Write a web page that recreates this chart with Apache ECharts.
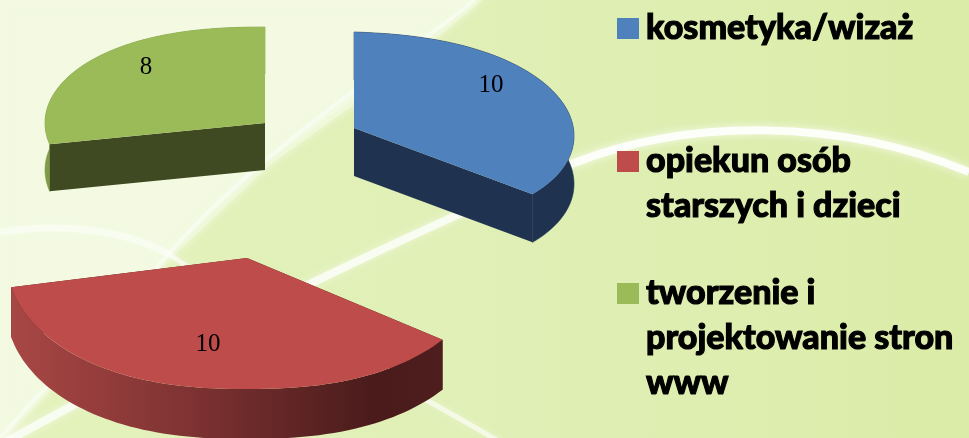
<!DOCTYPE html>
<html>
<head>
<meta charset="utf-8">
<style>html,body{margin:0;padding:0;background:#DDEEAE}#c{width:969px;height:438px}</style>
<script src="https://cdn.jsdelivr.net/npm/echarts@6/dist/echarts.min.js"></script>
</head>
<body>
<div id="c"></div>
<script>
const categories = ['kosmetyka/wizaż', 'opiekun osób\nstarszych i dzieci', 'tworzenie i\nprojektowanie stron\nwww'];
const values = [10, 10, 8];
const topColors = ['#4F81BD', '#BE4C4A', '#9BBB59'];

// Drawing layout of each exploded slice (not data)
const sliceLayout = [
  { x: 354, y: 128, rx: 220, ry: 96, skew: 8, depth: 48, label: [491, 85], side: '#1F3350', wall: '#1F3350', wallFirst: false },
  { x: 247, y: 258, rx: 241, ry: 131, skew: 0, depth: 50, label: [208, 344], side: '#4E1E1E',
    wall: ['#A84745', '#7E3232', '#4A1B1B', '#4E1E1E'], wallFirst: false },
  { x: 265, y: 123, rx: 220, ry: 96, skew: 0, depth: 47, label: [146, 67], side: '#404A22', wall: '#7F9A48', wallFirst: true }
];
const legendLayout = [
  { top: 6, blank: '' },
  { top: 94, blank: '\n' },
  { top: 181, blank: '\n\n' }
];

const total = values.reduce((a, b) => a + b, 0);

function renderSlice(index) {
  return function (params, api) {
    const s = sliceLayout[index];
    let before = 0;
    for (let i = 0; i < index; i++) before += values[i];
    const a0 = before / total * Math.PI * 2;
    const a1 = (before + api.value(0)) / total * Math.PI * 2;
    const pt = (a, r, dz) => {
      const su = Math.sin(a);
      const u = Math.sign(su) * Math.pow(Math.abs(su), 0.85) * r, v = -Math.cos(a) * r;
      return [s.x + s.rx * u, s.y + s.ry * v + s.skew * u + dz];
    };
    const arc = [];
    const n = 72;
    for (let k = 0; k <= n; k++) arc.push(a0 + (a1 - a0) * k / n);
    const top = [pt(0, 0, 0)].concat(arc.map(a => pt(a, 1, 0)));
    const face = a => [pt(0, 0, 0), pt(a, 1, 0), pt(a, 1, s.depth), pt(0, 0, s.depth)];
    const outer = arc.map(a => pt(a, 1, 0)).concat(arc.slice().reverse().map(a => pt(a, 1, s.depth)));
    let wallFill = s.wall;
    if (Array.isArray(s.wall)) {
      wallFill = new echarts.graphic.LinearGradient(0, 0, 1, 0, s.wall.map((c, i) => ({ offset: i === 3 ? 1 : i * 0.42, color: c })));
    }
    const wall = { type: 'polygon', shape: { points: outer }, style: { fill: wallFill, stroke: Array.isArray(s.wall) ? null : s.wall, lineWidth: 0.6 } };
    const faces = [
      { type: 'polygon', shape: { points: face(a0) }, style: { fill: s.side } },
      { type: 'polygon', shape: { points: face(a1) }, style: { fill: s.side } }
    ];
    const children = (s.wallFirst ? [wall].concat(faces) : faces.concat([wall])).concat([
      { type: 'polygon', shape: { points: top }, style: { fill: topColors[index] } },
      { type: 'text', style: { text: String(api.value(0)), x: s.label[0], y: s.label[1], align: 'center', verticalAlign: 'middle',
        fill: '#000', font: '25px "Liberation Serif"' } }
    ]);
    return { type: 'group', children };
  };
}

const chart = echarts.init(document.getElementById('c'), null, { renderer: 'canvas' });

const soft = (x1, y1, cpx1, cpy1, cpx2, cpy2, x2, y2, w, alpha) => ({
  type: 'bezierCurve', silent: true,
  shape: { x1, y1, cpx1, cpy1, cpx2, cpy2, x2, y2 },
  style: { stroke: 'rgba(255,255,255,' + alpha + ')', lineWidth: w, fill: null,
    shadowBlur: 8, shadowColor: 'rgba(255,255,255,' + alpha + ')' }
});

chart.setOption({
  animation: false,
  backgroundColor: new echarts.graphic.LinearGradient(0, 0, 1, 0, [
    { offset: 0, color: '#E4F2BC' }, { offset: 0.6, color: '#DFEFB4' }, { offset: 1, color: '#DBECA8' }
  ]),
  graphic: { elements: [
    { type: 'polygon', silent: true, z: 0,
      shape: { points: [[0,0],[475,0],[420,45],[352,100],[268,160],[172,250],[100,330],[38,396],[0,438]] },
      style: { fill: '#F3FAE1', stroke: 'rgba(243,250,225,0.6)', lineWidth: 10, shadowBlur: 12, shadowColor: '#F3FAE1' } },
    soft(969,172, 840,118, 690,118, 574,163, 8, 0.85),
    soft(574,163, 480,205, 300,280, 0,445, 8, 0.7),
    soft(0,232, 70,222, 130,232, 170,255, 7, 0.45),
    soft(170,255, 250,310, 380,370, 505,445, 5, 0.6),
    soft(475,0, 400,60, 260,150, 172,250, 4, 0.45),
    soft(172,250, 120,310, 60,370, 0,438, 4, 0.45)
  ] },
  legend: categories.map((name, i) => ({
    data: [name],
    left: 617, top: legendLayout[i].top, padding: 0,
    orient: 'vertical', icon: 'path://M0,0H22V21H0Z M24,0L24,0', itemWidth: 24, itemHeight: 21,
    selectedMode: false,
    formatter: n => legendLayout[i].blank + n,
    textStyle: { fontFamily: 'Lato', fontWeight: 900, fontSize: 34, lineHeight: 45, color: '#000',
      textBorderColor: '#000', textBorderWidth: 1.1 }
  })),
  series: categories.map((name, i) => ({
    type: 'custom', name, coordinateSystem: 'none', silent: true,
    itemStyle: { color: topColors[i] },
    data: [values[i]],
    renderItem: renderSlice(i)
  }))
});
</script>
</body>
</html>
